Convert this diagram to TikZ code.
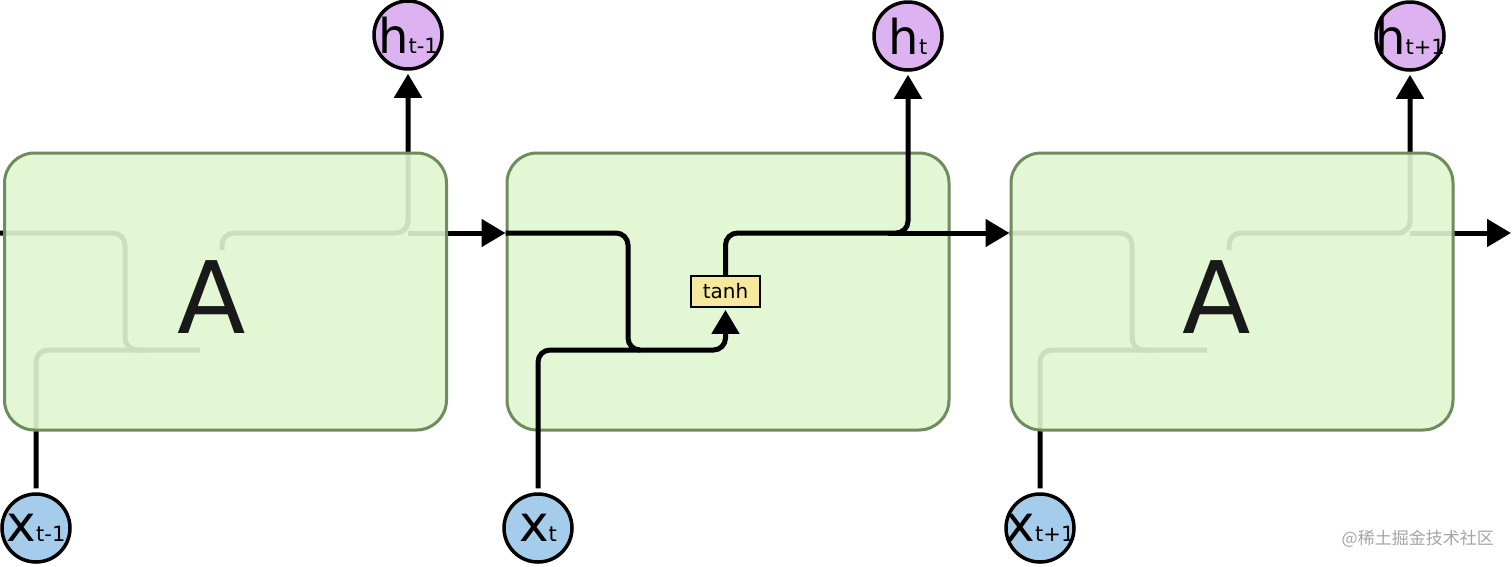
\documentclass[tikz,border=0pt]{standalone}
\usepackage{fontspec}
\setmainfont{DejaVu Sans}
\newfontfamily\cjkwm{Noto Sans CJK SC}
\usetikzlibrary{arrows.meta,calc}
\pgfdeclarelayer{bg}
\pgfsetlayers{bg,main}
\definecolor{cellfill}{RGB}{224,246,209}
\definecolor{cellline}{RGB}{111,140,92}
\definecolor{hfill}{RGB}{220,178,240}
\definecolor{xfill}{RGB}{165,204,234}
\definecolor{tanhfill}{RGB}{247,232,160}
\definecolor{wmgray}{RGB}{165,165,165}
\newcommand\mkhlab[1]{{\fontsize{48}{48}\selectfont h}{\fontsize{21}{21}\selectfont #1}}
\newcommand\mkxlab[1]{{\fontsize{50}{50}\selectfont x}{\fontsize{21}{21}\selectfont #1}}
\begin{document}
\begin{tikzpicture}[x=1pt,y=-1pt,
  cell/.style={draw=cellline,line width=3pt,fill=cellfill,fill opacity=0.91,
    rounded corners=30pt,minimum width=442pt,minimum height=277pt,inner sep=0pt},
  big/.style={font=\fontsize{100}{100}\selectfont,text=black!90,inner sep=0pt},
  hnode/.style={circle,draw=black,line width=3.5pt,fill=hfill,minimum size=68pt,inner sep=0pt},
  xnode/.style={circle,draw=black,line width=3.5pt,fill=xfill,minimum size=68pt,inner sep=0pt},
  wire/.style={line width=5pt,rounded corners=12pt},
  arr/.style={-{Triangle[length=24pt,width=27pt]}},
  gate/.style={draw=black,line width=1.8pt,fill=tanhfill,minimum width=69pt,
    minimum height=31pt,inner sep=0pt,font=\fontsize{20}{20}\selectfont},
]
\useasboundingbox (0,0) rectangle (1512,566);
\coordinate (m) at (0,233);
\coordinate (lo) at (0,350);
\coordinate (in0) at (0,233);
\coordinate (out) at (1511,233);

% cells
\node[cell] (A1) at (225.5,291.5) {};
\node[cell] (A2) at (728,291.5) {};
\node[cell] (A3) at (1232,291.5) {};
\node[big] (a1) at (212,297) {A};
\node[big] (a3) at (1217,297) {A};

% circles
\node[hnode,label={center:\mkhlab{t-1}}] (h1) at (408,35) {};
\node[hnode,label={center:\mkhlab{t}}] (h2) at (908,36) {};
\node[hnode,label={center:\mkhlab{t+1}}] (h3) at (1410,36) {};
\node[xnode,label={center:\mkxlab{t-1}}] (x1) at (36,528) {};
\node[xnode,label={center:\mkxlab{t}}] (x2) at (538,528) {};
\node[xnode,label={center:\mkxlab{t+1}}] (x3) at (1040,528) {};

% tanh gate
\node[gate] (tanh) at (725.5,291.5) {tanh};

% watermark
\node[font=\cjkwm\fontsize{17}{17}\selectfont,text=wmgray,anchor=east,inner sep=0pt] (wm) at (1494,539) {@稀土掘金技术社区};

% faint wiring under cell 1 and cell 3
\begin{pgfonlayer}{bg}
  \draw[wire] (in0) -- (125,233) -- (125,350) -- (200,350);
  \draw[wire,shorten <=4pt] (x1.north) -- (x1.north |- lo) -- (150,350);
  \draw[wire,arr,shorten >=3pt] (222,250) -- (222,233) -- (h1.south |- m) -- (h1.south);
  \draw[wire] (h1.south |- m) -- (A1.east |- m);

  \draw[wire] (A3.west |- m) -- (1132,233) -- (1132,350) -- (1207,350);
  \draw[wire,shorten <=4pt] (x3.north) -- (x3.north |- lo) -- (1157,350);
  \draw[wire,arr,shorten >=3pt] (1229,250) -- (1229,233) -- (h3.south |- m) -- (h3.south);
  \draw[wire] (h3.south |- m) -- (A3.east |- m);
\end{pgfonlayer}

% arrows between cells
\draw[wire,arr] (A1.east |- m) -- (A2.west |- m);
\draw[wire,arr] ($(h2.south |- m)+(-20,0)$) -- (A3.west |- m);
\draw[wire,arr] (A3.east |- m) -- (out);

% wiring inside cell 2
\draw[wire,arr,shorten >=2pt] (A2.west |- m) -- (628,233) -- (628,350) -- (tanh.south |- lo) -- (tanh.south);
\draw[wire,shorten <=4pt] (x2.north) -- (x2.north |- lo) -- (640,350);
\draw[wire,arr,shorten >=3pt] (tanh.north) -- (tanh.north |- m) -- (h2.south |- m) -- (h2.south);
\end{tikzpicture}
\end{document}
